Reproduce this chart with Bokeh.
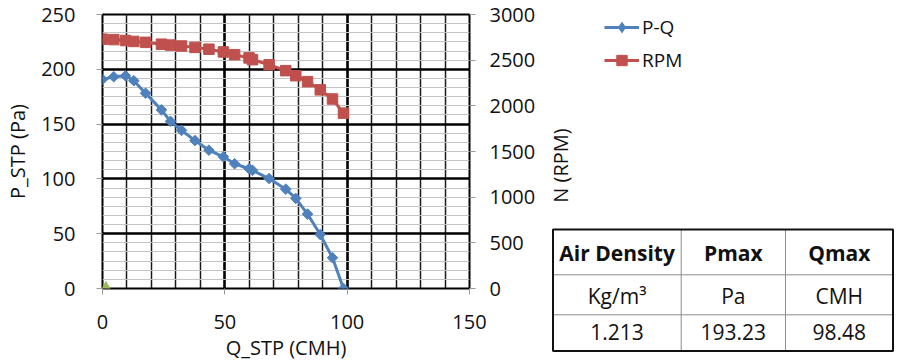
import math
from bokeh.plotting import figure
from bokeh.layouts import row
from bokeh.models import (Range1d, LinearAxis, SingleIntervalTicker, Legend, LegendItem)
from bokeh.core.properties import value
from bokeh.embed import file_html
from bokeh.resources import INLINE

# ---------------- data ----------------
q_stp = [0.0, 4.6, 9.4, 12.8, 17.6, 24.1, 27.8, 32.3, 37.8, 43.5, 49.4,
         54.0, 59.9, 61.3, 68.1, 74.9, 79.0, 83.8, 89.0, 94.0, 98.5]
p_stp = [190.8, 193.2, 194.1, 189.6, 178.2, 163.0, 152.5, 144.3, 135.0, 126.2, 120.2,
         113.8, 109.3, 107.8, 100.3, 90.6, 82.2, 67.9, 49.2, 28.1, 0.0]
rpm = [2730, 2725, 2715, 2705, 2695, 2675, 2665, 2655, 2640, 2620, 2590,
       2560, 2525, 2505, 2450, 2385, 2330, 2265, 2175, 2075, 1920]
op_q = [1.4]
op_p = [0.0]

table_header = ["Air Density", "Pmax", "Qmax"]
table_units = ["Kg/m³", "Pa", "CMH"]
table_values = ["1.213", "193.23", "98.48"]

FONT = "Open Sans"
BLUE = "#4F81BD"
RED = "#C0504D"
GREEN = "#9BBB59"
TXT = "#111111"

# ---------------- main chart ----------------
W1, H = 545, 363
FL, FT, FW, FH = 102, 14, 367, 276

p = figure(width=W1, height=H,
           x_range=Range1d(0, 150), y_range=Range1d(0, 250),
           output_backend="svg", toolbar_location=None,
           min_border_left=FL, min_border_right=W1 - FL - FW,
           min_border_top=FT, min_border_bottom=H - FT - FH,
           background_fill_color="white", border_fill_color="white")
p.extra_y_ranges = {"rpm": Range1d(0, 3000)}
p.outline_line_color = "black"
p.outline_line_width = 2

xt = SingleIntervalTicker(interval=50, num_minor_ticks=5)
yt = SingleIntervalTicker(interval=50, num_minor_ticks=6)
xax = p.xaxis[0]
yax = p.yaxis[0]
xax.ticker = xt
yax.ticker = yt
p.xgrid.ticker = xt
p.ygrid.ticker = yt

p.xgrid.grid_line_color = "black"
p.xgrid.grid_line_width = 2.5
p.xgrid.minor_grid_line_color = "#1a1a1a"
p.xgrid.minor_grid_line_width = 1.5
p.ygrid.grid_line_color = "black"
p.ygrid.grid_line_width = 2.5
p.ygrid.minor_grid_line_color = "#c4c4c4"
p.ygrid.minor_grid_line_width = 1

rax = LinearAxis(y_range_name="rpm", ticker=SingleIntervalTicker(interval=500))
p.add_layout(rax, "right")

for ax in [xax, yax, rax]:
    ax.axis_line_color = None
    ax.major_tick_line_color = "#999999"
    ax.major_tick_out = 6
    ax.major_tick_in = 0
    ax.minor_tick_line_color = None
    ax.major_label_text_font = FONT
    ax.major_label_text_font_size = "20px"
    ax.major_label_text_color = TXT
    ax.axis_label_text_font = FONT
    ax.axis_label_text_font_size = "20px"
    ax.axis_label_text_font_style = "normal"
    ax.axis_label_text_color = TXT

xax.axis_label = "Q_STP (CMH)"
xax.major_label_standoff = 20
xax.axis_label_standoff = 2
yax.axis_label = "P_STP (Pa)"
yax.major_label_standoff = 21
yax.axis_label_standoff = 7
rax.major_label_standoff = 14

lb = p.line(q_stp, p_stp, line_color=BLUE, line_width=3)
sb = p.scatter(q_stp, p_stp, marker="square", angle=math.pi / 4, size=7.5,
               fill_color=BLUE, line_color=BLUE)
lr = p.line(q_stp, rpm, y_range_name="rpm", line_color=RED, line_width=3)
sr = p.scatter(q_stp, rpm, y_range_name="rpm", marker="square", size=10.5,
               fill_color=RED, line_color=RED)
p.scatter(op_q, op_p, marker="triangle", size=12, fill_color=GREEN, line_color=GREEN)

# ---------------- side panel: axis title, legend, table ----------------
X0 = W1
W2 = 900 - W1
s = figure(width=W2, height=H, x_range=Range1d(X0, 900), y_range=Range1d(0, H),
           output_backend="svg", toolbar_location=None,
           x_axis_location=None, y_axis_location=None,
           min_border=0, min_border_left=0, min_border_right=0,
           min_border_top=0, min_border_bottom=0,
           background_fill_color="white", border_fill_color="white",
           outline_line_color=None)
s.grid.visible = False
if "frame_align" in s.properties():
    s.frame_align = False


def Y(page_y):
    return H - page_y


# right axis title (reads bottom-to-top)
s.text(x=[560], y=[Y(165)], text=["N (RPM)"], angle=math.pi / 2,
       text_align="center", text_baseline="middle",
       text_font=value(FONT), text_font_size="20px", text_color=TXT)

# legend (these renderers carry only the styling; their point is not drawn)
nan = float("nan")
e_lb = s.line([nan], [nan], line_color=BLUE, line_width=3)
e_sb = s.scatter([nan], [nan], marker="diamond", size=12,
                 fill_color=BLUE, line_color=BLUE)
e_lr = s.line([nan], [nan], line_color=RED, line_width=3)
e_sr = s.scatter([nan], [nan], marker="square", size=10.5, fill_color=RED, line_color=RED)
GLW, STD = 35, 3
LEG_LEFT, LEG_TOP = 603.5, 14
legend = Legend(items=[LegendItem(label="P-Q", renderers=[e_lb, e_sb]),
                       LegendItem(label="RPM", renderers=[e_lr, e_sr])],
                location="top_right", orientation="vertical",
                background_fill_alpha=0, border_line_color=None,
                padding=0, margin=LEG_TOP, spacing=7,
                glyph_width=GLW, glyph_height=26, label_height=26, label_standoff=STD,
                label_width=int(round(900 - LEG_TOP - LEG_LEFT - GLW - STD)),
                label_text_font=FONT, label_text_font_size="19px",
                label_text_color=TXT)
s.add_layout(legend)

# table
TL, TR, TT, TB = 552.5, 892.5, 229, 350.5
cols = [TL, 680.7, 785, TR]
rows = [TT, 274.3, 314.3, TB]
s.segment(x0=cols[1:-1], y0=[Y(TT)] * 2, x1=cols[1:-1], y1=[Y(TB)] * 2,
          line_color="#8c8c8c", line_width=1)
s.segment(x0=[TL] * 2, y0=[Y(r) for r in rows[1:-1]], x1=[TR] * 2,
          y1=[Y(r) for r in rows[1:-1]], line_color="#8c8c8c", line_width=1)
s.quad(left=[TL], right=[TR], top=[Y(TT)], bottom=[Y(TB)],
       fill_alpha=0, line_color=TXT, line_width=2)

row_y = [252, 295, 331]
centers = [(cols[i] + cols[i + 1]) / 2 for i in range(3)]
s.text(x=centers, y=[Y(row_y[0])] * 3, text=table_header,
       text_align="center", text_baseline="middle", text_font=value(FONT),
       text_font_size="21px", text_font_style="bold", text_color=TXT)
s.text(x=centers, y=[Y(row_y[1])] * 3, text=table_units,
       text_align="center", text_baseline="middle", text_font=value(FONT),
       text_font_size="21px", text_color=TXT)
s.text(x=centers, y=[Y(row_y[2])] * 3, text=table_values,
       text_align="center", text_baseline="middle", text_font=value(FONT),
       text_font_size="21px", text_color=TXT)

layout = row(p, s, spacing=0)
open("out.html", "w").write(file_html(layout, INLINE))
